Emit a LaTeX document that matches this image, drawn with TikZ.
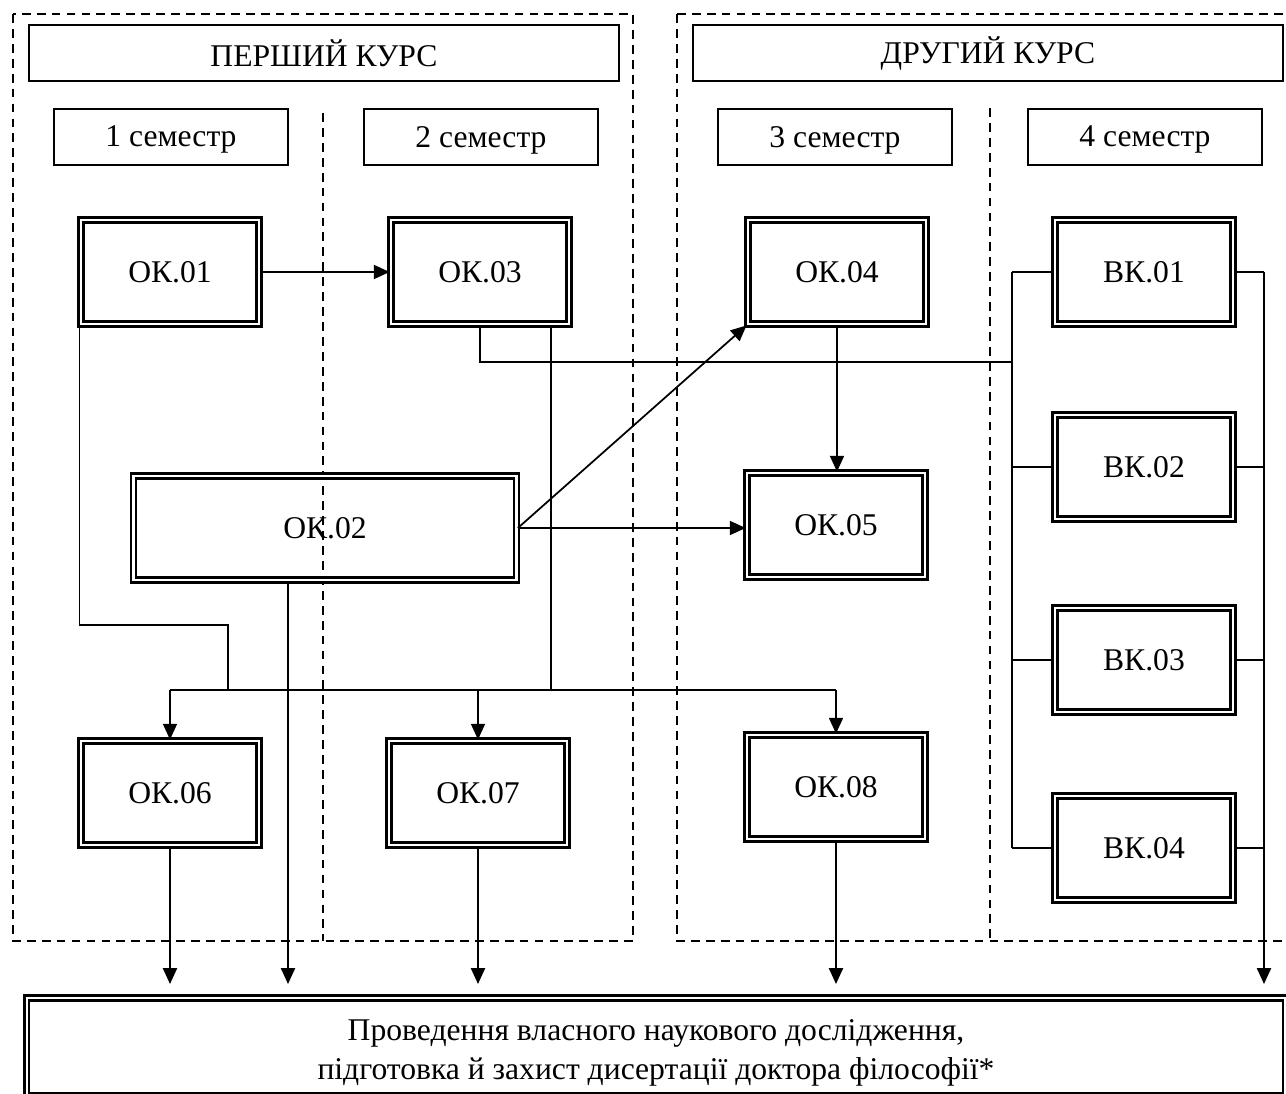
\documentclass[tikz,border=0pt]{standalone}
\usepackage{fontspec}
\setmainfont{Liberation Serif}
\usepackage{tikz}
\usetikzlibrary{calc,arrows.meta,positioning}
\tikzset{%
    frame/.style={%
        draw, dash pattern=on 5pt off 3.5pt, line width=1pt
    },
    course/.style={%
        rectangle, draw, line width=1.2pt, minimum width=11.8cm, minimum height=1.12cm, text centered
    },
    semester/.style={%
        rectangle, draw, line width=1.2pt, minimum width=4.68cm, minimum height=1.12cm, text centered, text depth=0.5pt
    },
    module/.style={%
        rectangle, draw, double, line width=1.6pt, double distance=1.2pt, minimum width=3.56cm, minimum height=2.08cm, text centered
    },
    link/.style={%
        line width=1pt
    },
    flow/.style={%
        line width=1pt, -{Triangle[length=9pt,width=8pt]}
    },
}

\begin{document}
\begin{tikzpicture}[x=0.02cm, y=-0.02cm, font=\fontsize{18}{22.5}\selectfont]
    \useasboundingbox (0,0) rectangle (1286,1094);

    % course frames
    \draw[frame] (13,14) rectangle (633,941);
    \draw[frame] (677,14) rectangle (1300,941);
    \draw[frame] (323,113) -- (323,941);
    \draw[frame] (990,108) -- (990,941);

    \node[course] (kurs1) at (324,53) {ПЕРШИЙ КУРС};
    \node[course] (kurs2) at (988,53) {ДРУГИЙ КУРС};

    \foreach \s/\x in {1/171, 2/481, 3/835, 4/1145}
        \node[semester] (sem\s) at (\x,137) {\s\ семестр};

    % modules
    \node[module] (ok1) at (170,272) {ОК.01};
    \node[module] (ok3) at (480,272) {ОК.03};
    \node[module] (ok4) at (837,272) {ОК.04};
    \node[module, minimum width=7.66cm] (ok2) at (325,528) {ОК.02};
    \node[module] (ok5) at (836,525) {ОК.05};
    \node[module] (ok6) at (170,793) {ОК.06};
    \node[module] (ok7) at (478,793) {ОК.07};
    \node[module] (ok8) at (836,787) {ОК.08};
    \foreach \i/\y in {1/272, 2/467, 3/660, 4/848}
        \node[module] (bk\i) at (1144,\y) {ВК.0\i};

    \node[module, minimum width=25.18cm, minimum height=1.96cm, align=center, text height=41pt] (final) at (656,1047)
        {Проведення власного наукового дослідження,\\ підготовка й захист дисертації доктора філософії*};

    % connectors
    \coordinate (bend) at (228,625);
    \coordinate (hub) at (228,690);
    \coordinate (lbus) at (1012,362);
    \coordinate (rbus) at (1264,272);
    \coordinate (tips) at (0,984);

    \draw[flow] (ok1.east) -- (ok3.west);
    \draw[flow] (ok2.east) -- (ok4.south west);
    \draw[flow] (ok2.east) -- (ok2.east -| ok5.west);
    \draw[flow] (ok4.south) -- (ok4.south |- ok5.north);

    \draw[link] (ok1.south west) |- (bend) -- (hub);
    \draw[link] ([xshift=1.42cm]ok3.south) -- ([xshift=1.42cm]ok3.south |- hub);
    \draw[link] (ok6.north |- hub) -- (ok8.north |- hub);
    \foreach \t in {ok6, ok7, ok8}
        \draw[flow] (\t.north |- hub) -- (\t.north);

    \draw[link] (ok3.south) |- (lbus);
    \draw[link] (bk1.west -| lbus) -- (bk4.west -| lbus);
    \foreach \i in {1,2,3,4} {
        \draw[link] (bk\i.west) -- (bk\i.west -| lbus);
        \draw[link] (bk\i.east) -- (bk\i.east -| rbus);
    }

    \draw[flow] (rbus) -- (rbus |- tips);
    \draw[flow] ([xshift=-0.74cm]ok2.south) -- ([xshift=-0.74cm]ok2.south |- tips);
    \foreach \t in {ok6, ok7, ok8}
        \draw[flow] (\t.south) -- (\t.south |- tips);
\end{tikzpicture}
\end{document}
